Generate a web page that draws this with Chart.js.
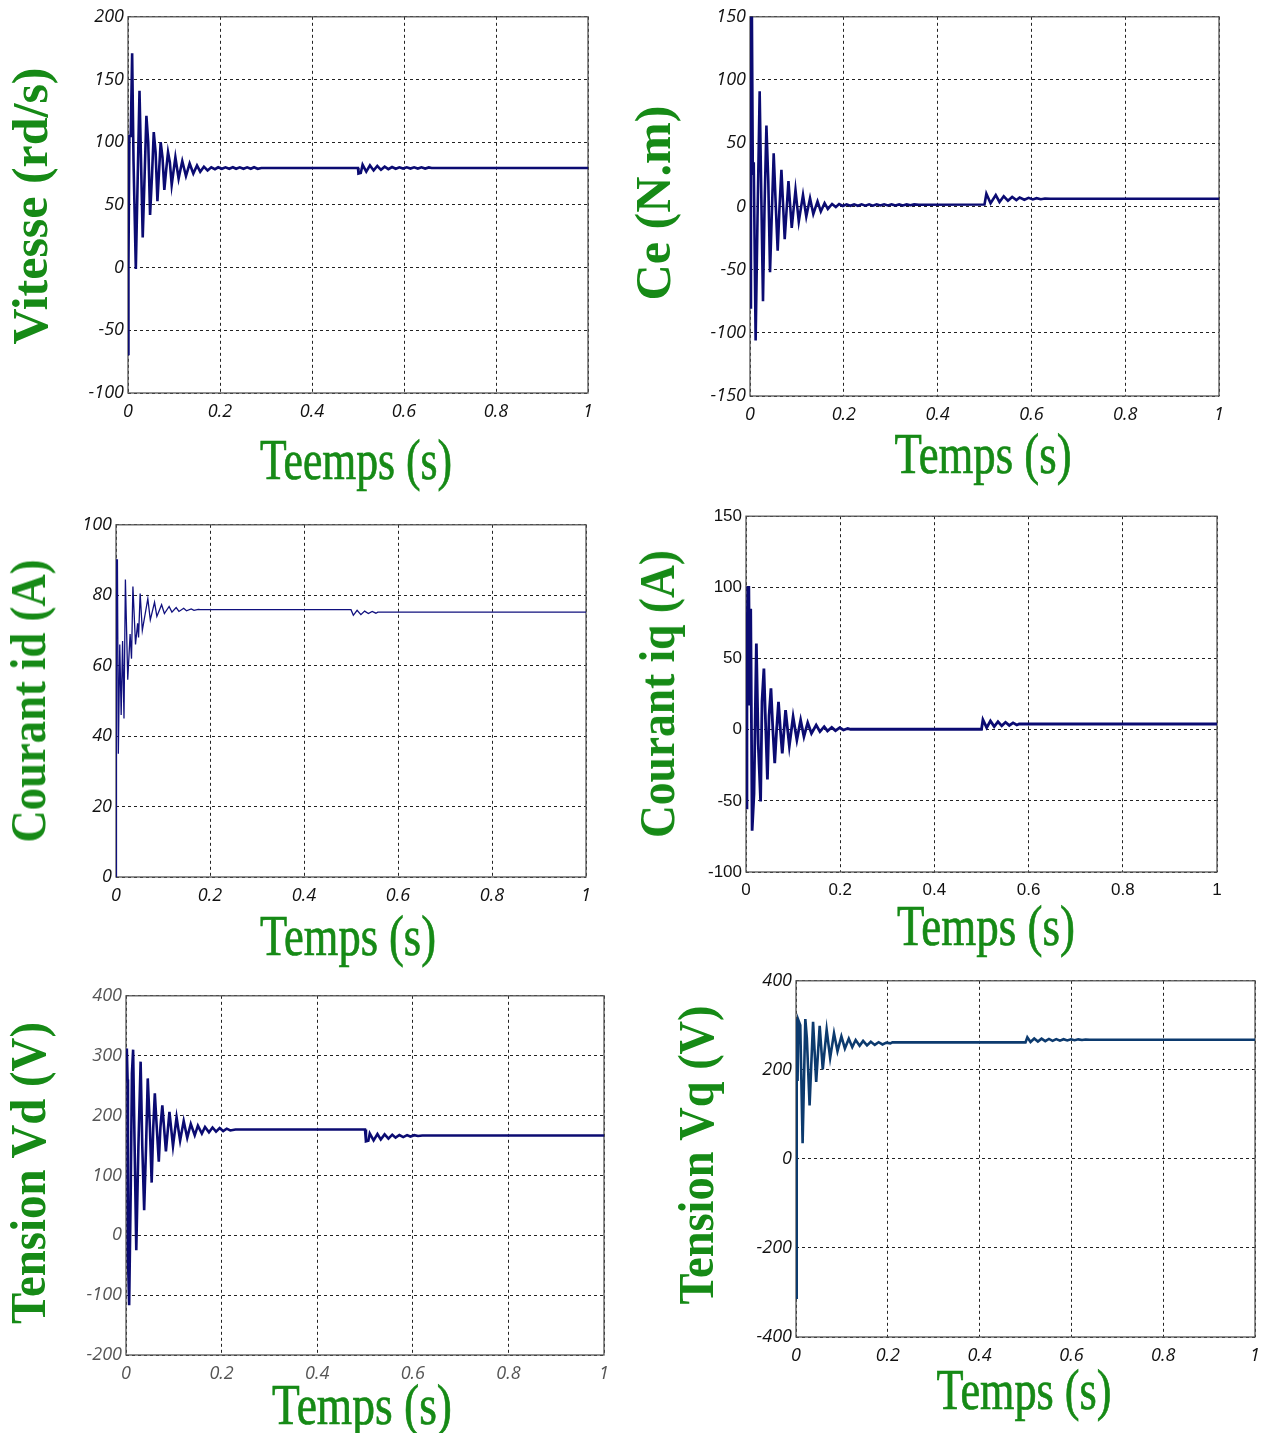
<html>
<head>
<script src="https://cdn.jsdelivr.net/npm/chart.js"></script>
<style>
    body { margin: 0; background: #fff; width: 1267px; height: 1433px; position: relative; overflow: hidden; }
    canvas { position: absolute; }
    .ttl { position: absolute; color: #168a16; white-space: nowrap; line-height: 1; font-family: "Liberation Serif", "DejaVu Serif", serif; }
</style>
</head>
<body>
<canvas id="vitesse"></canvas>
<canvas id="ce"></canvas>
<canvas id="courantId"></canvas>
<canvas id="courantIq"></canvas>
<canvas id="tensionVd"></canvas>
<canvas id="tensionVq"></canvas>

<script>
// time axis shared by every plot
const xTicks = [0, 0.2, 0.4, 0.6, 0.8, 1]
const xTickLabels = ['0', '0.2', '0.4', '0.6', '0.8', '1']

// speed (rd/s)
const tVitesse = [0, 0.0004, 0.0015, 0.003, 0.006, 0.009, 0.012, 0.017, 0.021, 0.025, 0.028, 0.032, 0.036, 0.040, 0.044, 0.048, 0.052, 0.056, 0.060, 0.064, 0.068, 0.071, 0.075, 0.079, 0.083, 0.087, 0.091, 0.095, 0.103, 0.110, 0.118, 0.126, 0.134, 0.142, 0.150, 0.157, 0.165, 0.173, 0.181, 0.189, 0.196, 0.204, 0.212, 0.220, 0.228, 0.235, 0.243, 0.251, 0.259, 0.267, 0.274, 0.282, 0.290, 0.500, 0.501, 0.506, 0.510, 0.518, 0.526, 0.534, 0.542, 0.550, 0.558, 0.566, 0.574, 0.582, 0.590, 0.598, 0.606, 0.614, 0.622, 0.630, 0.638, 0.646, 0.654, 0.660, 1]
const vitesse = [0, -70, 0, 105, 105, 171, 85, -1, 70, 141, 90, 24, 72, 121, 100, 42, 72, 108, 92, 53, 80, 100, 88, 62, 78, 92, 84, 66, 88, 71, 85, 73, 83, 75, 81.5, 76.5, 80.5, 77.5, 80, 78.5, 80, 78.8, 80, 78.8, 80, 78.8, 80, 78.8, 80, 78.8, 80, 78.8, 79.4, 79.4, 75, 75.5, 82, 76.5, 81.5, 77.5, 81, 78, 80.5, 78.5, 80.2, 78.8, 80, 79, 80, 79, 80, 79, 80, 79, 79.9, 79.4, 79.4]
const vitesseTicks = [-100, -50, 0, 50, 100, 150, 200]

// electromagnetic torque (N.m)
const tCe = [0, 0.002, 0.004, 0.006, 0.008, 0.012, 0.016, 0.0206, 0.024, 0.0277, 0.031, 0.035, 0.039, 0.0427, 0.047, 0.0505, 0.055, 0.059, 0.063, 0.067, 0.074, 0.082, 0.089, 0.097, 0.104, 0.113, 0.120, 0.128, 0.135, 0.144, 0.151, 0.159, 0.166, 0.175, 0.183, 0.190, 0.198, 0.206, 0.214, 0.222, 0.230, 0.238, 0.246, 0.254, 0.262, 0.270, 0.278, 0.286, 0.294, 0.302, 0.310, 0.318, 0.326, 0.334, 0.342, 0.350, 0.360, 0.500, 0.504, 0.513, 0.524, 0.532, 0.541, 0.550, 0.559, 0.568, 0.575, 0.585, 0.594, 0.603, 0.611, 0.620, 0.629, 0.640, 1]
const ce = [-80, 155, 155, 25, 35, -106, -10, 91, 10, -75, 0, 64, 20, -52, 0, 42, 0, -35, 0, 29, -26, 20, -17, 13, -12, 9, -8, 6.5, -6, 4, -4, 2.6, -2, 1.9, -0.5, 1.8, 0.3, 1.6, 0.5, 1.6, 0.5, 1.6, 0.6, 1.6, 0.6, 1.6, 0.7, 1.6, 0.7, 1.6, 0.8, 1.6, 0.8, 1.6, 0.9, 1.6, 1.3, 1.5, 10, 2.5, 9, 3.5, 8, 4.5, 7.5, 5, 7, 5.3, 6.8, 5.5, 6.5, 5.7, 6.3, 6, 6]
const ceTicks = [-150, -100, -50, 0, 50, 100, 150]

// direct-axis current (A)
const tId = [0, 0.001, 0.003, 0.005, 0.008, 0.011, 0.014, 0.017, 0.020, 0.025, 0.030, 0.033, 0.036, 0.0415, 0.046, 0.048, 0.0514, 0.056, 0.0677, 0.073, 0.082, 0.087, 0.097, 0.103, 0.113, 0.119, 0.128, 0.134, 0.144, 0.150, 0.160, 0.166, 0.175, 0.180, 0.500, 0.505, 0.513, 0.521, 0.529, 0.537, 0.545, 0.553, 0.557, 1]
const courantId = [0, 90, 90, 35, 66, 46, 67, 45, 84.5, 56, 69, 62, 82.5, 66, 72, 68, 80.5, 70, 79, 73, 78, 74, 77.3, 74.8, 76.8, 75.2, 76.5, 75.4, 76.3, 75.6, 76.1, 75.7, 76, 75.9, 75.9, 74.3, 75.7, 74.5, 75.5, 74.8, 75.4, 74.9, 75.2, 75.2]
const courantIdTicks = [0, 20, 40, 60, 80, 100]

// quadrature-axis current (A)
const tIq = [0, 0.002, 0.004, 0.006, 0.008, 0.010, 0.013, 0.017, 0.022, 0.026, 0.031, 0.034, 0.038, 0.042, 0.0455, 0.049, 0.053, 0.057, 0.061, 0.065, 0.069, 0.073, 0.077, 0.084, 0.092, 0.100, 0.108, 0.116, 0.123, 0.131, 0.139, 0.149, 0.157, 0.166, 0.173, 0.182, 0.190, 0.199, 0.207, 0.216, 0.222, 0.500, 0.503, 0.511, 0.519, 0.527, 0.535, 0.543, 0.551, 0.559, 0.567, 0.575, 0.580, 1]
const courantIq = [-55, 60, 100, 100, 17, 85, -71, -45, 60.5, -10, -50.5, 20, 43, 0, -35, 10, 29, 0, -23.6, 0, 19.6, 0, -16.6, 13.8, -11.4, 9.1, -7.2, 6.8, -4.9, 4.9, -2.6, 3.3, -1.4, 2.1, -0.9, 1.6, -0.7, 1.4, -0.2, 0.8, 0.3, 0.3, 7, 1.4, 6.2, 2.2, 5.6, 2.7, 5.2, 3, 4.8, 3.3, 4, 4]
const courantIqTicks = [-100, -50, 0, 50, 100, 150]

// direct-axis voltage (V)
const tVd = [0, 0.0017, 0.0033, 0.0041, 0.0066, 0.0099, 0.0124, 0.0149, 0.018, 0.0215, 0.026, 0.0306, 0.034, 0.038, 0.042, 0.0455, 0.050, 0.0537, 0.057, 0.0603, 0.064, 0.0686, 0.072, 0.076, 0.0835, 0.0909, 0.0983, 0.1058, 0.1132, 0.1207, 0.1281, 0.1355, 0.1438, 0.1504, 0.1587, 0.1653, 0.1736, 0.181, 0.1884, 0.1959, 0.2033, 0.2107, 0.2182, 0.229, 0.500, 0.502, 0.507, 0.510, 0.518, 0.526, 0.533, 0.541, 0.549, 0.557, 0.564, 0.572, 0.580, 0.588, 0.595, 0.603, 0.611, 0.620, 1]
const tensionVd = [260, 312, 260, -37, -117, 75, 270, 310, 150, -25, 150, 290, 150, 42, 150, 262, 180, 88, 180, 237, 185, 123, 180, 217, 140, 206, 149, 197, 158, 191, 163, 186, 167, 183, 170, 181, 172, 180, 173, 179, 174, 178, 175, 176.7, 176.7, 157, 158, 170, 158.5, 169, 160, 168.5, 161.5, 168, 163, 167.5, 164, 167.3, 165, 167.2, 165.8, 166.7, 166.7]
const tensionVdTicks = [-200, -100, 0, 100, 200, 300, 400]

// quadrature-axis voltage (V)
const tVq = [0, 0.0015, 0.0025, 0.0034, 0.005, 0.0093, 0.0144, 0.0203, 0.0237, 0.0296, 0.0372, 0.044, 0.0516, 0.0583, 0.0668, 0.0744, 0.0828, 0.0904, 0.0989, 0.1065, 0.115, 0.1226, 0.130, 0.1386, 0.1462, 0.1547, 0.163, 0.1716, 0.180, 0.1885, 0.197, 0.2054, 0.210, 0.500, 0.504, 0.511, 0.519, 0.527, 0.535, 0.543, 0.551, 0.559, 0.567, 0.575, 0.583, 0.591, 0.599, 0.607, 0.615, 0.623, 0.631, 0.640, 1]
const tensionVq = [-312, 312, 312, 175, 312, 300, 35, 314, 270, 120, 308, 173, 299, 201, 290, 227, 282, 242, 275, 248, 270, 251, 267, 254, 265, 255, 263, 256, 262, 257, 261, 259.5, 261.7, 261.7, 273, 262.5, 270.5, 263.5, 270, 264.5, 269.5, 265, 269, 265.5, 268.8, 266, 268.6, 266.5, 268.5, 267, 268.3, 267.7, 267.7]
const tensionVqTicks = [-400, -200, 0, 200, 400]

// plot frame drawn over the grid, under the trace
const frame = {
    id: 'frame',
    beforeDatasetsDraw(chart) {
        const { ctx, chartArea: a } = chart
        ctx.save()
        ctx.strokeStyle = '#555'
        ctx.lineWidth = 1.3
        ctx.strokeRect(a.left, a.top, a.right - a.left, a.bottom - a.top)
        ctx.restore()
    },
}

function makePlot(id, box, t, y, yTicks, opts) {
    const padL = 62, padT = 14, padR = 22, xH = 34
    const canvas = document.getElementById(id)
    canvas.width = box.x1 - box.x0 + padL + padR
    canvas.height = box.y1 - box.y0 + padT + xH
    canvas.style.left = box.x0 - padL + 'px'
    canvas.style.top = box.y0 - padT + 'px'

    const font = opts.tickFont
    const tickColor = opts.tickColor || '#111'

    return new Chart(canvas, {
        type: 'line',
        data: {
            datasets: [{
                data: t.map((x, i) => ({ x, y: y[i] })),
                borderColor: opts.color || '#0b0b72',
                borderWidth: opts.width || 2.6,
                pointRadius: 0,
                tension: 0,
            }],
        },
        options: {
            responsive: false,
            animation: false,
            layout: { padding: { left: 0, top: padT, right: padR, bottom: 0 } },
            plugins: { legend: false, tooltip: false },
            scales: {
                x: {
                    type: 'linear',
                    min: 0,
                    max: 1,
                    afterBuildTicks: (s) => { s.ticks = xTicks.map((v) => ({ value: v })) },
                    afterFit: (s) => { s.height = xH },
                    grid: { color: '#222', lineWidth: 1, drawTicks: false },
                    border: { display: false, dash: [3, 3] },
                    ticks: {
                        autoSkip: false,
                        maxRotation: 0,
                        padding: 8,
                        color: tickColor,
                        font,
                        callback: (v, i) => xTickLabels[i],
                    },
                },
                y: {
                    min: yTicks[0],
                    max: yTicks[yTicks.length - 1],
                    afterBuildTicks: (s) => { s.ticks = yTicks.map((v) => ({ value: v })) },
                    afterFit: (s) => { s.width = padL },
                    grid: { color: '#222', lineWidth: 1, drawTicks: false },
                    border: { display: false, dash: [3, 3] },
                    ticks: {
                        autoSkip: false,
                        padding: 4,
                        color: tickColor,
                        font,
                        callback: (v) => String(v),
                    },
                },
            },
        },
        plugins: [frame],
    })
}

const hand = { family: '"Open Sans"', size: 18, style: 'italic' }
const arial = { family: '"Liberation Sans"', size: 17, style: 'normal' }

makePlot('vitesse', { x0: 128, y0: 16, x1: 588, y1: 393 }, tVitesse, vitesse, vitesseTicks, { tickFont: hand })
makePlot('ce', { x0: 750, y0: 16, x1: 1219, y1: 396 }, tCe, ce, ceTicks, { tickFont: hand })
makePlot('courantId', { x0: 116, y0: 524, x1: 586, y1: 877 }, tId, courantId, courantIdTicks, { tickFont: hand, width: 1.3, color: '#10107e' })
makePlot('courantIq', { x0: 746, y0: 516, x1: 1217, y1: 872 }, tIq, courantIq, courantIqTicks, { tickFont: arial, width: 2.8 })
makePlot('tensionVd', { x0: 126, y0: 995, x1: 604, y1: 1355 }, tVd, tensionVd, tensionVdTicks, { tickFont: hand, tickColor: '#555' })
makePlot('tensionVq', { x0: 796, y0: 980, x1: 1255, y1: 1337 }, tVq, tensionVq, tensionVqTicks, { tickFont: hand, color: '#0c3a6e' })

// green axis titles, stretched to the length they occupy on the page
const titles = [
    { text: 'Vitesse (rd/s)', cx: 30, cy: 206, len: 277, size: 50, bold: true, rot: true },
    { text: 'Teemps (s)', cx: 356, cy: 460, len: 192, size: 56 },
    { text: 'Ce (N.m)', cx: 653, cy: 203, len: 195, size: 50, bold: true, rot: true },
    { text: 'Temps (s)', cx: 983, cy: 454, len: 177, size: 56 },
    { text: 'Courant id (A)', cx: 28, cy: 701, len: 283, size: 50, bold: true, rot: true },
    { text: 'Temps (s)', cx: 348, cy: 936, len: 176, size: 56 },
    { text: 'Courant iq (A)', cx: 657, cy: 694, len: 288, size: 50, bold: true, rot: true },
    { text: 'Temps (s)', cx: 986, cy: 926, len: 178, size: 56 },
    { text: 'Tension Vd (V)', cx: 28, cy: 1173, len: 303, size: 50, bold: true, rot: true },
    { text: 'Temps (s)', cx: 362, cy: 1405, len: 180, size: 56 },
    { text: 'Tension Vq (V)', cx: 696, cy: 1155, len: 300, size: 50, bold: true, rot: true },
    { text: 'Temps (s)', cx: 1024, cy: 1390, len: 175, size: 56 },
]

const measure = document.createElement('canvas').getContext('2d')
titles.forEach((t) => {
    const weight = t.bold ? 'bold ' : ''
    measure.font = `${weight}${t.size}px "Liberation Serif"`
    const w = measure.measureText(t.text).width
    const div = document.createElement('div')
    div.className = 'ttl'
    div.textContent = t.text
    div.style.left = t.cx + 'px'
    div.style.top = t.cy + 'px'
    div.style.fontSize = t.size + 'px'
    div.style.fontWeight = t.bold ? 'bold' : 'normal'
    if (!t.bold) div.style.webkitTextStroke = '0.7px #168a16'
    div.style.transform = `translate(-50%, -50%) ${t.rot ? 'rotate(-90deg)' : ''} scaleX(${(t.len / w).toFixed(3)})`
    document.body.appendChild(div)
})
</script>
</body>
</html>
